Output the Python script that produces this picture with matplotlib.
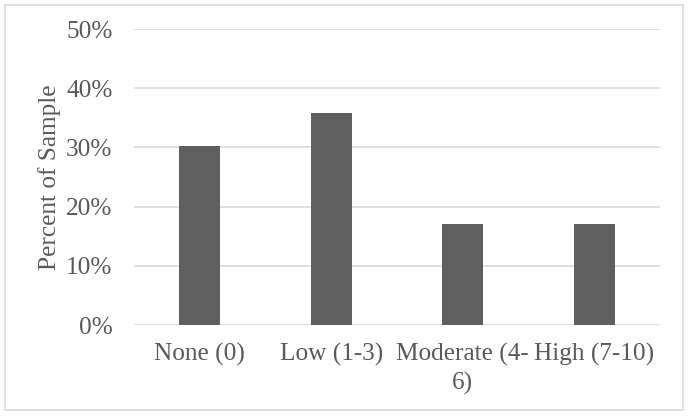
import matplotlib
matplotlib.use("Agg")
import matplotlib.pyplot as plt
from matplotlib.patches import Rectangle
from matplotlib.ticker import FuncFormatter

categories = ["None (0)", "Low (1-3)", "Moderate (4-\n6)", "High (7-10)"]
values = [30.2, 35.8, 17.0, 17.0]
yticks = [0, 10, 20, 30, 40, 50]

plt.rcParams['font.family'] = ['Liberation Serif', 'DejaVu Serif']
text_color = "#595959"
bar_color = "#5f5f5f"
grid_color = "#d9d9d9"

fig = plt.figure(figsize=(6.89, 4.16), dpi=100)
ax = fig.add_axes([134/689, 1 - 325/416, (660-134)/689, (325-29)/416])

x = list(range(len(categories)))
ax.bar(x, values, width=0.31, color=bar_color, zorder=3)
ax.set_xlim(-0.5, len(categories) - 0.5)
ax.set_ylim(0, 50)
ax.set_yticks(yticks)
ax.yaxis.set_major_formatter(FuncFormatter(lambda v, p: f"{int(v)}%"))
ax.set_xticks(x)
ax.set_xticklabels(categories, linespacing=1.32)
ax.tick_params(axis='both', length=0, labelsize=18.2, colors=text_color)
ax.tick_params(axis='x', pad=13)
ax.tick_params(axis='y', pad=15.5)
ax.yaxis.grid(True, color=grid_color, linewidth=1.2, zorder=0)
for s in ax.spines.values():
    s.set_visible(False)
ax.set_ylabel("Percent of Sample", fontsize=18.2, color=text_color)
ax.yaxis.set_label_coords(-0.139, 0.5)

fig.patches.append(Rectangle((5/689, 1 - 410/416), 678/689, 405/416,
                             transform=fig.transFigure, fill=False,
                             edgecolor="#d9d9d9", linewidth=1.2))

fig.savefig("out.png", dpi=100)
